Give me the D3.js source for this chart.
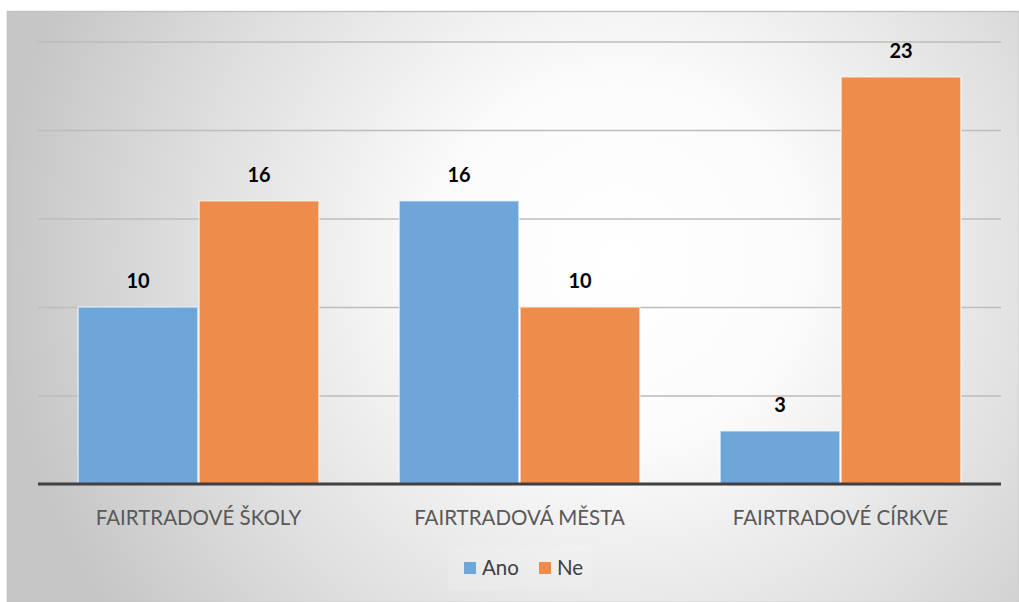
<!DOCTYPE html>
<html>
<head>
<meta charset="utf-8">
<script src="https://cdn.jsdelivr.net/npm/d3@7"></script>
<style>
  body { margin: 0; background: #fff; }
  svg { display: block; font-family: Lato, "Liberation Sans", sans-serif; }
</style>
</head>
<body>
<script>
var categories = ["FAIRTRADOVÉ ŠKOLY", "FAIRTRADOVÁ MĚSTA", "FAIRTRADOVÉ CÍRKVE"];
var seriesNames = ["Ano", "Ne"];
var ano = [10, 16, 3];
var ne = [16, 10, 23];
var yTicks = [0, 5, 10, 15, 20, 25];
var colors = ["#6ea6da", "#ee8c4c"];

var W = 1019, H = 602;
var margin = {top: 41.5, bottom: 118, left: 38, right: 18};

var svg = d3.select("body").append("svg")
    .attr("width", W)
    .attr("height", H);

var defs = svg.append("defs");
var grad = defs.append("radialGradient")
    .attr("id", "bg")
    .attr("gradientUnits", "userSpaceOnUse")
    .attr("cx", 620).attr("cy", 260).attr("r", 620);
grad.append("stop").attr("offset", "0%").attr("stop-color", "#ffffff");
grad.append("stop").attr("offset", "30%").attr("stop-color", "#fbfbfb");
grad.append("stop").attr("offset", "70%").attr("stop-color", "#dedede");
grad.append("stop").attr("offset", "100%").attr("stop-color", "#c6c6c6");

svg.append("rect")
    .attr("x", 7.5).attr("y", 11.5)
    .attr("width", W - 7).attr("height", H - 11)
    .attr("fill", "url(#bg)")
    .attr("stroke", "#c2c2c2")
    .attr("stroke-width", 1.5);

var x0 = d3.scaleBand()
    .domain(categories)
    .range([margin.left, W - margin.right])
    .paddingInner(0.25)
    .paddingOuter(0.125);

var x1 = d3.scaleBand()
    .domain(seriesNames)
    .range([0, x0.bandwidth()])
    .paddingInner(0.01);

var y = d3.scaleLinear()
    .domain([0, 25])
    .range([H - margin.bottom, margin.top]);

// gridlines
var yAxis = d3.axisLeft(y)
    .tickValues(yTicks)
    .tickSize(-(W - margin.left - margin.right))
    .tickFormat("");

svg.append("g")
    .attr("class", "grid")
    .attr("transform", "translate(" + margin.left + ",0)")
    .call(yAxis)
    .call(g => g.select(".domain").remove())
    .call(g => g.selectAll("line").attr("stroke", "#bdbdbd").attr("stroke-width", 1.5));

var data = categories.map((c, i) => ({cat: c, values: [
    {key: "Ano", value: ano[i]},
    {key: "Ne", value: ne[i]}
]}));

var groups = svg.selectAll(".group")
    .data(data)
    .enter()
    .append("g")
    .attr("class", "group")
    .attr("transform", d => "translate(" + x0(d.cat) + ",0)");

groups.selectAll("rect")
    .data(d => d.values)
    .enter()
    .append("rect")
    .attr("x", d => x1(d.key))
    .attr("y", d => y(d.value))
    .attr("width", x1.bandwidth())
    .attr("height", d => y(0) - y(d.value))
    .attr("fill", (d, i) => colors[i])
    .attr("stroke", "#ffffff")
    .attr("stroke-opacity", 0.6)
    .attr("stroke-width", 1.5);

groups.selectAll("text")
    .data(d => d.values)
    .enter()
    .append("text")
    .attr("x", d => x1(d.key) + x1.bandwidth() / 2)
    .attr("y", d => y(d.value) - 19)
    .attr("text-anchor", "middle")
    .attr("font-size", 20)
    .attr("font-weight", "bold")
    .attr("fill", "#000")
    .text(d => d.value);

// x axis
var xAxis = d3.axisBottom(x0).tickSize(0).tickPadding(26);
svg.append("g")
    .attr("transform", "translate(0," + y(0) + ")")
    .call(xAxis)
    .call(g => g.select(".domain")
        .attr("stroke", "#404040")
        .attr("stroke-width", 3)
        .attr("d", "M" + margin.left + ",0H" + (W - margin.right)))
    .call(g => g.selectAll("text")
        .attr("font-size", 20.5)
        .attr("fill", "#595959")
        .attr("font-family", "Lato, 'Liberation Sans', sans-serif"));

// legend
var legend = svg.append("g").attr("transform", "translate(0,568)");
legend.append("rect")
    .attr("x", 448).attr("y", -22)
    .attr("width", 144).attr("height", 44)
    .attr("fill", "#ffffff").attr("opacity", 0.12);

var legendX = [464, 539];
seriesNames.forEach((s, i) => {
    legend.append("rect")
        .attr("x", legendX[i]).attr("y", -6)
        .attr("width", 12).attr("height", 12)
        .attr("fill", colors[i]);
    legend.append("text")
        .attr("x", legendX[i] + 18).attr("y", 7)
        .attr("font-size", 20.5)
        .attr("fill", "#404040")
        .text(s);
});
</script>
</body>
</html>
